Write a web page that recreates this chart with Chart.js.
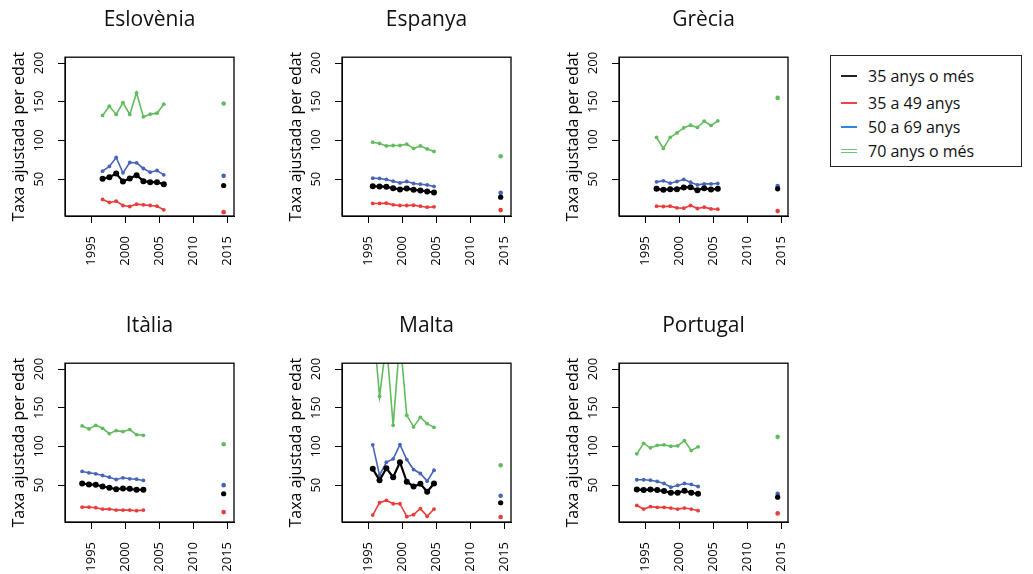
<!DOCTYPE html>
<html lang="ca">
<head>
    <meta charset="UTF-8">
    <title>Taxa ajustada per edat</title>
    <style>
        body {
            margin: 0;
            background: #fff;
            width: 1033px;
            height: 574px;
            overflow: hidden;
            position: relative;
            font-family: 'Open Sans', sans-serif;
        }

        .panel {
            position: absolute;
            width: 260px;
            height: 268px;
        }

        .legend {
            position: absolute;
            left: 830px;
            top: 55px;
            width: 192px;
            height: 112px;
            border: 1px solid #222;
            box-sizing: border-box;
        }

        .legend div {
            position: absolute;
            left: 37px;
            font-size: 16px;
            color: #111;
            line-height: 20px;
        }

        .legend span {
            position: absolute;
            left: -27px;
            top: 9px;
            width: 16px;
            height: 2px;
        }
    </style>
    <script src="https://cdn.jsdelivr.net/npm/chart.js"></script>
</head>
<body>

    <div class="panel" style="left:0px; top:0px"><canvas id="c0" width="260" height="268"></canvas></div>
    <div class="panel" style="left:277px; top:0px"><canvas id="c1" width="260" height="268"></canvas></div>
    <div class="panel" style="left:554px; top:0px"><canvas id="c2" width="260" height="268"></canvas></div>
    <div class="panel" style="left:0px; top:306px"><canvas id="c3" width="260" height="268"></canvas></div>
    <div class="panel" style="left:277px; top:306px"><canvas id="c4" width="260" height="268"></canvas></div>
    <div class="panel" style="left:554px; top:306px"><canvas id="c5" width="260" height="268"></canvas></div>

    <div class="legend">
        <div style="top:10px"><span style="background:#222"></span>35 anys o més</div>
        <div style="top:37px"><span style="background:#ee4444"></span>35 a 49 anys</div>
        <div style="top:61px"><span style="background:#2a8ad8"></span>50 a 69 anys</div>
        <div style="top:85px"><span style="height:1px; top:8px; background:#6cc47a; box-shadow:0 3px 0 #6cc47a"></span>70 anys o més</div>
    </div>

    <script>
        // Series labels and ticks
        const seriesNames = ['35 anys o més', '35 a 49 anys', '50 a 69 anys', '70 anys o més'];
        const xTicks = [1995, 2000, 2005, 2010, 2015];
        const yTicks = [50, 100, 150, 200];
        const recentYear = 2014.4;

        // Eslovènia
        const sloYears = [1996.6, 1997.6, 1998.6, 1999.6, 2000.6, 2001.6, 2002.6, 2003.6, 2004.6, 2005.6];
        const sloAll = [50.4, 52.6, 57.3, 47.0, 50.9, 55.2, 47.4, 46.1, 46.1, 43.5];
        const sloYoung = [23.8, 19.9, 21.6, 16.0, 14.7, 17.7, 16.8, 16.0, 15.1, 10.4];
        const sloMid = [60.3, 66.4, 78.0, 58.2, 71.5, 71.1, 63.8, 59.0, 61.2, 55.6];
        const sloOld = [132.3, 144.3, 133.6, 149.0, 133.6, 161.5, 130.5, 134.0, 135.3, 146.9];
        const sloRecent = [41.8, 7.4, 54.3, 147.8];

        // Espanya
        const espYears = [1995.6, 1996.6, 1997.6, 1998.6, 1999.6, 2000.6, 2001.6, 2002.6, 2003.6, 2004.6];
        const espAll = [41.0, 40.6, 40.1, 38.4, 36.7, 38.0, 36.2, 35.4, 34.1, 32.8];
        const espYoung = [18.6, 18.6, 19.0, 16.8, 16.0, 16.0, 16.4, 15.1, 13.8, 14.2];
        const espMid = [51.3, 50.9, 49.6, 47.4, 45.2, 47.0, 44.4, 43.5, 42.6, 40.6];
        const espOld = [97.8, 96.1, 93.0, 93.5, 93.5, 95.2, 89.7, 93.0, 89.1, 85.8];
        const espRecent = [26.7, 10.0, 32.3, 79.7];

        // Grècia
        const greYears = [1996.6, 1997.6, 1998.6, 1999.6, 2000.6, 2001.6, 2002.6, 2003.6, 2004.6, 2005.6];
        const greAll = [37.5, 36.2, 37.1, 37.1, 39.3, 39.7, 35.8, 38.4, 36.7, 37.5];
        const greYoung = [15.1, 14.7, 15.1, 12.9, 12.5, 16.0, 12.1, 13.8, 11.6, 11.2];
        const greMid = [46.5, 47.8, 44.8, 47.0, 49.6, 46.1, 42.6, 43.9, 43.9, 44.4];
        const greOld = [103.9, 89.7, 103.9, 109.8, 116.3, 119.8, 116.8, 124.9, 119.4, 125.3];
        const greRecent = [37.5, 8.7, 41.0, 155.0];

        // Itàlia
        const itaYears = [1993.6, 1994.6, 1995.6, 1996.6, 1997.6, 1998.6, 1999.6, 2000.6, 2001.6, 2002.6];
        const itaAll = [52.2, 50.9, 50.5, 48.3, 46.6, 44.8, 45.7, 45.3, 44.1, 44.1];
        const itaYoung = [21.6, 21.6, 20.9, 19.1, 19.1, 17.8, 17.8, 17.8, 17.0, 17.8];
        const itaMid = [67.7, 66.0, 64.7, 62.5, 60.3, 57.3, 59.5, 58.2, 57.7, 56.1];
        const itaOld = [126.5, 122.7, 127.3, 123.5, 116.6, 120.5, 119.2, 121.8, 115.3, 114.4];
        const itaRecent = [38.9, 15.2, 50.0, 102.8];

        // Malta
        const mltYears = [1995.6, 1996.6, 1997.6, 1998.6, 1999.6, 2000.6, 2001.6, 2002.6, 2003.6, 2004.6];
        const mltAll = [71.1, 56.4, 71.9, 60.3, 79.6, 54.4, 48.3, 51.8, 41.5, 52.2];
        const mltYoung = [11.3, 27.3, 30.3, 26.0, 26.0, 9.3, 11.9, 19.6, 9.7, 19.1];
        const mltMid = [102.1, 62.9, 79.6, 84.0, 102.4, 83.1, 70.2, 65.1, 55.2, 69.3];
        const mltOld = [265.0, 164.7, 235.0, 127.3, 240.0, 140.2, 125.3, 137.6, 129.5, 124.7];
        const mltRecent = [27.3, 8.8, 36.3, 75.8];

        // Portugal
        const porYears = [1993.7, 1994.7, 1995.7, 1996.7, 1997.7, 1998.7, 1999.7, 2000.7, 2001.7, 2002.7];
        const porAll = [44.5, 43.6, 44.5, 43.6, 42.3, 40.2, 40.2, 42.8, 40.2, 38.9];
        const porYoung = [23.8, 19.1, 22.2, 21.3, 21.3, 20.4, 19.1, 20.4, 19.1, 17.0];
        const porMid = [57.0, 57.0, 56.4, 54.8, 52.2, 47.4, 49.6, 52.2, 50.9, 48.3];
        const porOld = [90.5, 104.1, 98.2, 101.5, 102.1, 100.3, 100.8, 107.6, 94.7, 99.5];
        const porRecent = [34.5, 13.5, 38.9, 112.4];

        const panels = [
            { title: 'Eslovènia', years: sloYears, series: [sloAll, sloYoung, sloMid, sloOld], recent: sloRecent },
            { title: 'Espanya', years: espYears, series: [espAll, espYoung, espMid, espOld], recent: espRecent },
            { title: 'Grècia', years: greYears, series: [greAll, greYoung, greMid, greOld], recent: greRecent },
            { title: 'Itàlia', years: itaYears, series: [itaAll, itaYoung, itaMid, itaOld], recent: itaRecent },
            { title: 'Malta', years: mltYears, series: [mltAll, mltYoung, mltMid, mltOld], recent: mltRecent },
            { title: 'Portugal', years: porYears, series: [porAll, porYoung, porMid, porOld], recent: porRecent }
        ];

        const colors = ['#000000', '#ec3b3b', '#4664b8', '#62bb5e'];
        const lineWidths = [2.2, 1.6, 1.6, 1.6];
        const pointSizes = [3, 1.9, 1.9, 1.9];
        const recentSizes = [2.6, 2.3, 2.3, 2.3];

        Chart.defaults.font.family = "'Open Sans', sans-serif";
        Chart.defaults.color = '#000';

        // full box round the plot region
        const boxPlugin = {
            id: 'box',
            afterDraw(chart) {
                const a = chart.chartArea;
                const ctx = chart.ctx;
                ctx.save();
                ctx.strokeStyle = '#000';
                ctx.lineWidth = 1.3;
                ctx.strokeRect(a.left, a.top, a.right - a.left, a.bottom - a.top);
                ctx.restore();
            }
        };

        panels.forEach((p, k) => {
            const datasets = [];
            p.series.forEach((vals, i) => {
                datasets.push({
                    label: seriesNames[i],
                    data: vals.map((v, j) => ({ x: p.years[j], y: v })),
                    showLine: true,
                    borderColor: colors[i],
                    backgroundColor: colors[i],
                    borderWidth: lineWidths[i],
                    pointRadius: pointSizes[i],
                    pointBorderWidth: 0,
                    tension: 0
                });
            });
            p.recent.forEach((v, i) => {
                datasets.push({
                    label: seriesNames[i] + ' (recent)',
                    data: [{ x: recentYear, y: v }],
                    showLine: false,
                    borderColor: colors[i],
                    backgroundColor: colors[i],
                    pointRadius: recentSizes[i],
                    pointBorderWidth: 0
                });
            });

            new Chart(document.getElementById('c' + k), {
                type: 'scatter',
                data: { datasets: datasets },
                plugins: [boxPlugin],
                options: {
                    responsive: false,
                    animation: false,
                    layout: { padding: { left: 0, right: 26, top: 0, bottom: 0 } },
                    plugins: {
                        legend: { display: false },
                        tooltip: { enabled: false },
                        title: {
                            display: true,
                            text: p.title,
                            fullSize: false,
                            color: '#111',
                            font: { size: 21, weight: 'normal' },
                            padding: { top: 7, bottom: 25 }
                        }
                    },
                    scales: {
                        x: {
                            type: 'linear',
                            min: 1991.08,
                            max: 2015.92,
                            afterBuildTicks: s => { s.ticks = xTicks.map(v => ({ value: v })); },
                            afterFit: s => { s.height = 52; },
                            grid: { drawOnChartArea: false, drawTicks: true, tickLength: 7, color: '#000' },
                            border: { display: true, color: '#000' },
                            ticks: {
                                autoSkip: false,
                                minRotation: 90,
                                maxRotation: 90,
                                padding: 13,
                                font: { size: 13 },
                                color: '#000',
                                callback: v => String(v)
                            }
                        },
                        y: {
                            type: 'linear',
                            min: 2.4,
                            max: 207.6,
                            afterBuildTicks: s => { s.ticks = yTicks.map(v => ({ value: v })); },
                            afterFit: s => { s.width = 65; },
                            grid: { drawOnChartArea: false, drawTicks: true, tickLength: 7, color: '#000' },
                            border: { display: true, color: '#000' },
                            title: {
                                display: true,
                                text: 'Taxa ajustada per edat',
                                color: '#000',
                                font: { size: 16 },
                                padding: { top: 10, bottom: 0 }
                            },
                            ticks: {
                                minRotation: 90,
                                maxRotation: 90,
                                crossAlign: 'center',
                                padding: 8,
                                font: { size: 13 },
                                color: '#000',
                                callback: v => String(v)
                            }
                        }
                    }
                }
            });
        });
    </script>

</body>
</html>
